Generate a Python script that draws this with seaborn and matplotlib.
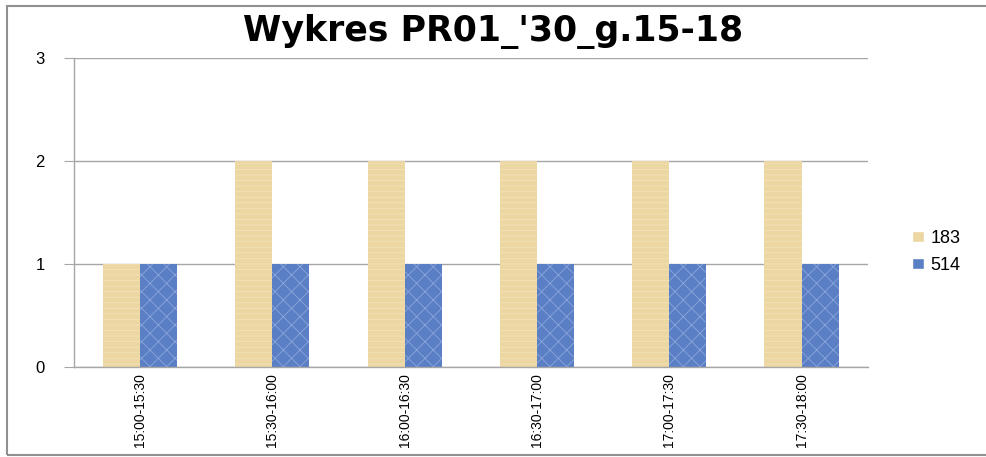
import pandas as pd
import matplotlib.pyplot as plt
import seaborn as sns
from matplotlib.patches import Rectangle

sns.set_style("white")
plt.rcParams['font.family'] = ['Liberation Sans', 'DejaVu Sans']
plt.rcParams['hatch.linewidth'] = 0.6
plt.rcParams['text.color'] = 'black'
plt.rcParams['xtick.color'] = 'black'
plt.rcParams['ytick.color'] = 'black'

# Data
periods = ['15:00-15:30', '15:30-16:00', '16:00-16:30',
           '16:30-17:00', '17:00-17:30', '17:30-18:00']
series_183 = [1, 2, 2, 2, 2, 2]
series_514 = [1, 1, 1, 1, 1, 1]
series_names = ['183', '514']
colors = ['#ecd7a2', '#5b7fc4']

df = pd.DataFrame({
    'period': periods * 2,
    'value': series_183 + series_514,
    'series': [series_names[0]] * len(periods) + [series_names[1]] * len(periods),
})

fig = plt.figure(figsize=(9.86, 4.57), dpi=100)
ax = fig.add_axes([0.075, 0.197, 0.805, 0.676])

sns.barplot(data=df, x='period', y='value', hue='series', palette=colors,
            width=0.56, gap=0, saturation=1, ax=ax, errorbar=None)

# Light texture on the bars
for i, bar in enumerate(ax.patches[:2 * len(periods)]):
    bar.set_linewidth(0)
    if i >= len(periods):
        bar.set_hatch('xx')
        bar.set_edgecolor('#8aa6dc')
    else:
        bar.set_hatch('---')
        bar.set_edgecolor('#f2e2b8')

ax.set_ylim(0, 3)
ax.set_yticks([0, 1, 2, 3])
ax.set_xlim(-0.5, len(periods) - 0.5)
ax.yaxis.grid(True, color='#a6a6a6', linewidth=1)
ax.set_axisbelow(True)
for side in ['top', 'right']:
    ax.spines[side].set_visible(False)
for side in ['left', 'bottom']:
    ax.spines[side].set_color('#a6a6a6')
    ax.spines[side].set_linewidth(1)
ax.tick_params(axis='y', left=True, length=7, color='#a6a6a6', labelcolor='black',
               labelsize=12, pad=14)
ax.tick_params(axis='x', bottom=False, labelcolor='black', pad=1)
ax.set_xticks(range(len(periods)))
ax.set_xticklabels(periods, rotation=90, fontsize=10)
ax.set_xlabel('')
ax.set_ylabel('')

fig.text(0.5, 0.93, "Wykres PR01_'30_g.15-18", fontsize=25, fontweight='bold',
         ha='center', va='center', color='black', family=['DejaVu Sans'])

ax.legend(title=None, frameon=False, loc='center left', bbox_to_anchor=(1.035, 0.372),
          fontsize=13, handlelength=0.7, handleheight=0.6, handletextpad=0.35,
          labelspacing=0.55)

# Grey frame around the chart area (right edge runs off the picture)
fig.patches.append(Rectangle((0.007, 0.004), 1.1, 0.983, transform=fig.transFigure,
                             fill=False, edgecolor='#909090', linewidth=1.5))

plt.savefig('out.png', dpi=100)
